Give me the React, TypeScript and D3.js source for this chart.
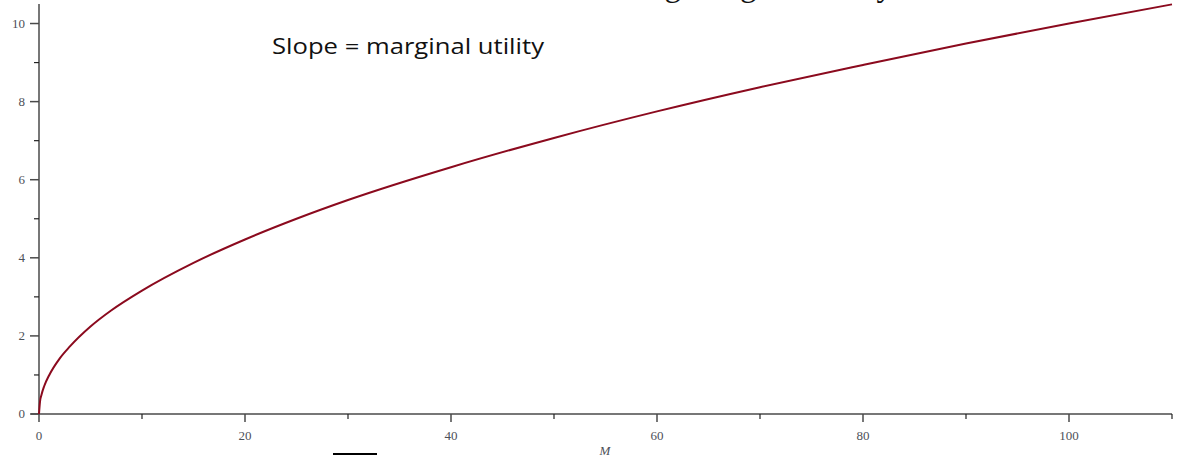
import React, { useEffect, useRef } from "react"
import * as d3 from "d3"

// values
const mValues = [0, 0.1, 0.25, 0.5, 1, 2, 3, 5, 7, 10, 15, 20, 25, 30, 40, 50, 60, 70, 80, 90, 100, 110]
const utility = [0, 0.32, 0.5, 0.71, 1.0, 1.42, 1.73, 2.24, 2.65, 3.16, 3.87, 4.47, 5.0, 5.48, 6.32, 7.07, 7.75, 8.37, 8.94, 9.49, 10.0, 10.49]

const xMajor = [0, 20, 40, 60, 80, 100]
const xMinor = [10, 30, 50, 70, 90, 110]
const yMajor = [0, 2, 4, 6, 8, 10]
const yMinor = [1, 3, 5, 7, 9]

const W = 1181
const H = 455

function App() {
  const svgRef = useRef<SVGSVGElement>(null)

  useEffect(() => {
    const svg = d3.select(svgRef.current)
    svg.selectAll("*").remove()

    const x = d3.scaleLinear().domain([0, 110]).range([39, 1172])
    const y = d3.scaleLinear().domain([0, 10.5]).range([414, 4])

    const axisColor = "#4a4a4a"
    const labelColor = "#4d5058"
    const serif = "'Liberation Serif', 'Times New Roman', serif"

    // title, mostly cut off at the top of the picture
    svg.append("text")
      .attr("x", 516)
      .attr("y", -4)
      .attr("font-family", serif)
      .attr("font-size", 33)
      .attr("fill", "#111")
      .text("Diminishing marginal utility")

    // x axis
    const gx = svg.append("g")
    gx.append("line")
      .attr("x1", x(0) - 8).attr("x2", x(110))
      .attr("y1", y(0)).attr("y2", y(0))
      .attr("stroke", axisColor).attr("stroke-width", 1.5)
    gx.selectAll("line.major")
      .data(xMajor).enter().append("line")
      .attr("x1", d => x(d)).attr("x2", d => x(d))
      .attr("y1", y(0)).attr("y2", y(0) + 8)
      .attr("stroke", axisColor).attr("stroke-width", 1.5)
    gx.selectAll("line.minor")
      .data(xMinor).enter().append("line")
      .attr("x1", d => x(d)).attr("x2", d => x(d))
      .attr("y1", y(0)).attr("y2", y(0) + 5)
      .attr("stroke", "#222").attr("stroke-width", 1.2)
    gx.selectAll("text")
      .data(xMajor).enter().append("text")
      .attr("x", d => x(d)).attr("y", 440)
      .attr("text-anchor", "middle")
      .attr("font-family", serif).attr("font-size", 13)
      .attr("fill", labelColor)
      .text(d => d)

    // y axis
    const gy = svg.append("g")
    gy.append("line")
      .attr("x1", x(0)).attr("x2", x(0))
      .attr("y1", y(0)).attr("y2", 4)
      .attr("stroke", axisColor).attr("stroke-width", 1.5)
    gy.selectAll("line.major")
      .data(yMajor).enter().append("line")
      .attr("x1", x(0) - 9).attr("x2", x(0))
      .attr("y1", d => y(d)).attr("y2", d => y(d))
      .attr("stroke", axisColor).attr("stroke-width", 1.5)
    gy.selectAll("line.minor")
      .data(yMinor).enter().append("line")
      .attr("x1", x(0) - 5).attr("x2", x(0))
      .attr("y1", d => y(d)).attr("y2", d => y(d))
      .attr("stroke", "#222").attr("stroke-width", 1.2)
    gy.selectAll("text")
      .data(yMajor).enter().append("text")
      .attr("x", 25).attr("y", d => y(d) + 4)
      .attr("text-anchor", "end")
      .attr("font-family", serif).attr("font-size", 13)
      .attr("fill", labelColor)
      .text(d => d)

    // axis label
    svg.append("text")
      .attr("x", 605).attr("y", 455)
      .attr("text-anchor", "middle")
      .attr("font-family", serif).attr("font-style", "italic")
      .attr("font-size", 13).attr("fill", labelColor)
      .text("M")

    // stray fraction bar at the bottom edge
    svg.append("line")
      .attr("x1", 333).attr("x2", 377)
      .attr("y1", 454).attr("y2", 454)
      .attr("stroke", "#000").attr("stroke-width", 2)

    // utility curve
    const line = d3.line<number>()
      .x((d, i) => x(mValues[i]))
      .y(d => y(d))
      .curve(d3.curveMonotoneX)
    svg.append("path")
      .datum(utility)
      .attr("d", line)
      .attr("fill", "none")
      .attr("stroke", "#8b0a1e")
      .attr("stroke-width", 2)

    // annotation
    svg.append("text")
      .attr("x", 272).attr("y", 54)
      .attr("font-family", "'Open Sans', 'Noto Sans', sans-serif")
      .attr("font-size", 22)
      .attr("textLength", 272)
      .attr("lengthAdjust", "spacingAndGlyphs")
      .attr("fill", "#111")
      .text("Slope = marginal utility")
  })

  return (
    <svg ref={svgRef} width={W} height={H}
      style={{ position: "absolute", left: 0, top: 0, background: "#fff" }} />
  )
}

export default App
